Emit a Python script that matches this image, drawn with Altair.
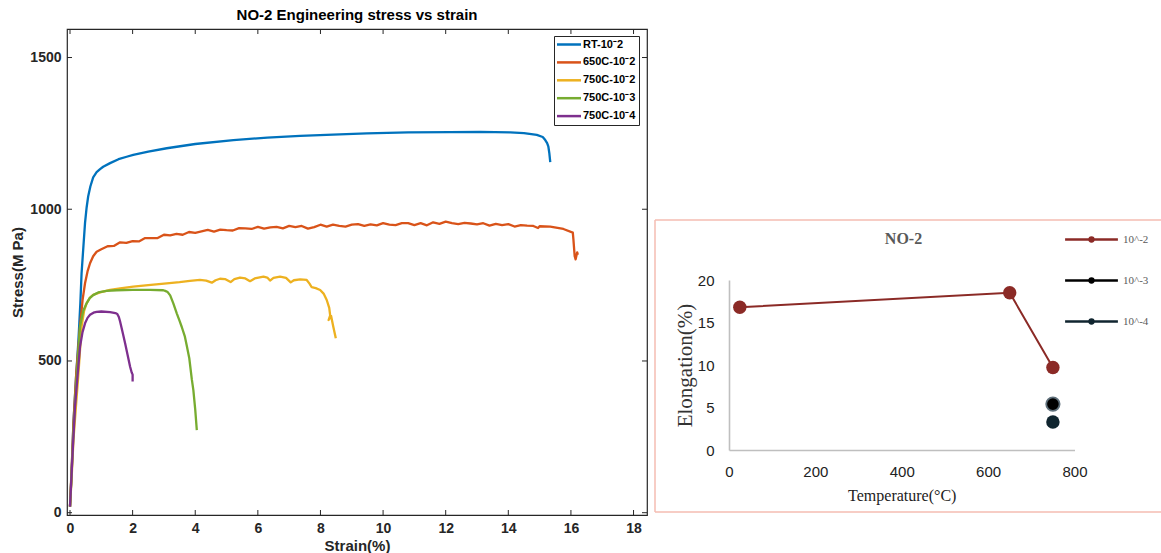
import altair as alt
import pandas as pd

# ---------------- left panel: engineering stress vs strain ----------------
series_names = ["RT-10⁻2", "650C-10⁻2", "750C-10⁻2", "750C-10⁻3", "750C-10⁻4"]
series_colors = ["#0072BD", "#D95319", "#EDB120", "#77AC30", "#7E2F8E"]

rt_strain = [0.0, 0.05, 0.11, 0.19, 0.27, 0.33, 0.37, 0.43, 0.48, 0.53, 0.58, 0.65, 0.74, 0.85, 0.96,
             1.06, 1.28, 1.55, 1.81, 2.02, 2.5, 3.09, 4.0, 5.22, 6.3, 7.35, 8.4, 9.48, 10.8, 12.14,
             13.1, 14.06, 14.5, 14.91, 15.1, 15.18, 15.24, 15.28, 15.31, 15.34]
rt_stress = [20, 130, 296, 440, 569, 690, 790, 880, 955, 1005, 1042, 1075, 1105, 1122, 1132,
             1140, 1152, 1165, 1173, 1179, 1190, 1201, 1215, 1228, 1236, 1242, 1246, 1250, 1253, 1254,
             1255, 1253, 1251, 1245, 1238, 1228, 1218, 1206, 1185, 1155]

c650_strain = [0.0, 0.05, 0.11, 0.2, 0.32, 0.4, 0.48, 0.56, 0.64, 0.74, 0.85, 1.0,
               1.2, 1.4, 1.6, 1.8, 2.0, 2.2, 2.4, 2.6, 2.8, 3.0,
               3.2, 3.4, 3.6, 3.8, 4.0, 4.2, 4.4, 4.6, 4.8, 5.0,
               5.2, 5.4, 5.6, 5.8, 6.0, 6.2, 6.4, 6.6, 6.8, 7.0,
               7.2, 7.4, 7.6, 7.8, 8.0, 8.2, 8.4, 8.6, 8.8, 9.0,
               9.2, 9.4, 9.6, 9.8, 10.0, 10.2, 10.4, 10.6, 10.8, 11.0,
               11.2, 11.4, 11.6, 11.8, 12.0, 12.2, 12.4, 12.6, 12.8, 13.0,
               13.2, 13.4, 13.6, 13.8, 14.0, 14.2, 14.4, 14.6, 14.8, 14.95, 15.0,
               15.34, 15.76, 16.06, 16.08, 16.12, 16.15, 16.2, 16.22]
c650_stress = [20, 140, 295, 460, 613, 700, 756, 795, 822, 845, 860, 868,
               878, 879, 891, 889, 895, 894, 905, 905, 905, 916,
               914, 919, 916, 925, 922, 927, 932, 926, 933, 931,
               930, 938, 937, 935, 942, 936, 940, 942, 937, 945,
               941, 945, 936, 941, 949, 943, 949, 945, 943, 949,
               951, 945, 950, 947, 954, 949, 948, 954, 954, 948,
               954, 947, 957, 952, 959, 954, 951, 955, 953, 950,
               954, 946, 952, 948, 951, 943, 948, 946, 945, 938, 944,
               943, 935, 923, 900, 845, 835, 858, 850]

c750a_strain = [0.0, 0.05, 0.11, 0.19, 0.27, 0.37, 0.45, 0.53, 0.63, 0.74, 0.96, 1.28, 1.6, 2.02, 2.5,
                3.09, 3.5, 3.83, 4.15, 4.35, 4.53, 4.65, 4.79, 4.95, 5.13, 5.25, 5.43, 5.6, 5.75, 5.9,
                6.18, 6.3, 6.39, 6.5, 6.71, 6.9, 7.05, 7.15, 7.35, 7.56, 7.65, 7.72, 7.85, 7.99, 8.1,
                8.2, 8.28, 8.31, 8.26, 8.34, 8.41, 8.49]
c750a_stress = [20, 110, 240, 350, 459, 613, 665, 690, 708, 718, 726, 734, 739, 745, 750,
                756, 760, 764, 767, 765, 758, 766, 771, 770, 760, 770, 775, 772, 763, 772,
                778, 775, 765, 774, 778, 774, 759, 766, 769, 767, 755, 743, 740, 734, 722,
                701, 675, 650, 635, 648, 613, 575]

c750b_strain = [0.0, 0.06, 0.12, 0.2, 0.32, 0.42, 0.53, 0.63, 0.74, 0.9, 1.17, 1.49, 2.0, 2.56, 2.98,
                3.04, 3.12, 3.2, 3.3, 3.41, 3.5, 3.57, 3.67, 3.73, 3.81, 3.89, 3.94, 4.0, 4.05]
c750b_stress = [20, 150, 290, 430, 613, 665, 690, 707, 717, 726, 731, 733, 734, 734, 733,
                731, 727, 716, 690, 657, 632, 612, 580, 550, 509, 440, 404, 340, 272]

c750c_strain = [0.0, 0.08, 0.16, 0.24, 0.32, 0.4, 0.48, 0.56, 0.64, 0.75, 0.85, 1.0,
                1.28, 1.45, 1.51, 1.56, 1.6, 1.68, 1.76, 1.84, 1.92, 1.97, 2.0, 2.0]
c750c_stress = [20, 190, 349, 450, 547, 595, 624, 642, 652, 659, 662, 663,
                661, 658, 655, 645, 630, 595, 558, 520, 481, 462, 455, 432]

strain_ticks = [0, 2, 4, 6, 8, 10, 12, 14, 16, 18]
stress_ticks = [0, 500, 1000, 1500]

# ---------------- right panel: elongation vs temperature ----------------
rate_names = ["10^-2", "10^-3", "10^-4"]
rate_colors = ["#8B2A26", "#000000", "#10252F"]
temp_r2 = [25, 650, 750]
elong_r2 = [16.8, 18.5, 9.7]
temp_r3 = [750]
elong_r3 = [5.4]
temp_r4 = [750]
elong_r4 = [3.3]
temp_ticks = [0, 200, 400, 600, 800]
elong_ticks = [0, 5, 10, 15, 20]

# ---------------- tables ----------------
rows = []
for name, xs, ys in zip(series_names,
                        [rt_strain, c650_strain, c750a_strain, c750b_strain, c750c_strain],
                        [rt_stress, c650_stress, c750a_stress, c750b_stress, c750c_stress]):
    for i, (a, b) in enumerate(zip(xs, ys)):
        rows.append({"series": name, "strain": a, "stress": b, "idx": i})
curves = pd.DataFrame(rows)

prow = []
for name, ts, es in zip(rate_names, [temp_r2, temp_r3, temp_r4], [elong_r2, elong_r3, elong_r4]):
    for t, e in zip(ts, es):
        prow.append({"rate": name, "rate_p": name, "temp": t, "elong": e})
pts = pd.DataFrame(prow)

xt_df = pd.DataFrame({"t": strain_ticks})
yt_df = pd.DataFrame({"t": stress_ticks})
one = pd.DataFrame({"a": [0]})

# ---------------- geometry ----------------
W, H = 580, 486
FRAME = "#262626"
SANS = "Liberation Sans"
SERIF = "Liberation Serif"

xs_left = alt.Scale(domain=[-0.096, 18.43], nice=False, zero=False)
ys_left = alt.Scale(domain=[-7.6, 1594], nice=False, zero=False)

left_x_axis = alt.Axis(orient="bottom", values=strain_ticks, format="d", title="Strain(%)",
                       grid=False, ticks=False, domain=False, labelFlush=False,
                       labelFont=SANS, labelFontSize=14, labelFontWeight="bold",
                       labelColor=FRAME, labelPadding=6,
                       titleFont=SANS, titleFontSize=15, titleFontWeight="bold",
                       titleColor=FRAME, titlePadding=3)
left_y_axis = alt.Axis(orient="left", values=stress_ticks, format="d", title="Stress(M Pa)",
                       grid=False, ticks=False, domain=False, labelFlush=False,
                       labelFont=SANS, labelFontSize=14, labelFontWeight="bold",
                       labelColor=FRAME, labelPadding=6,
                       titleFont=SANS, titleFontSize=15, titleFontWeight="bold",
                       titleColor=FRAME, titlePadding=4)

lines = alt.Chart(curves).mark_line(strokeWidth=2.3, strokeJoin="round").encode(
    x=alt.X("strain:Q", scale=xs_left, axis=left_x_axis),
    y=alt.Y("stress:Q", scale=ys_left, axis=left_y_axis),
    color=alt.Color("series:N",
                    scale=alt.Scale(domain=series_names, range=series_colors),
                    legend=alt.Legend(title=None, orient="none", legendX=487, legendY=7,
                                      symbolType="M-3,0L3,0", symbolSize=64,
                                      symbolStrokeWidth=2.5, symbolOffset=6.5,
                                      labelOffset=8.5, labelFont=SANS, labelFontSize=11,
                                      labelFontWeight="bold", labelColor="#000000",
                                      strokeColor=FRAME, fillColor="white",
                                      padding=3, rowPadding=5.9)),
    order=alt.Order("idx:Q"),
)

tick_style = dict(color=FRAME, strokeWidth=1)
t_bottom = alt.Chart(xt_df).mark_rule(**tick_style).encode(
    x=alt.X("t:Q", scale=xs_left, axis=None), y=alt.value(H), y2=alt.value(H - 5))
t_top = alt.Chart(xt_df).mark_rule(**tick_style).encode(
    x=alt.X("t:Q", scale=xs_left, axis=None), y=alt.value(0), y2=alt.value(5))
t_left = alt.Chart(yt_df).mark_rule(**tick_style).encode(
    y=alt.Y("t:Q", scale=ys_left, axis=None), x=alt.value(0), x2=alt.value(5))
t_right = alt.Chart(yt_df).mark_rule(**tick_style).encode(
    y=alt.Y("t:Q", scale=ys_left, axis=None), x=alt.value(W), x2=alt.value(W - 5))

# right panel scales placed with explicit pixel ranges
xs_right = alt.Scale(domain=[0, 800], range=[662, 1007.5], nice=False, zero=False)
ys_right = alt.Scale(domain=[0, 20], range=[421, 251], nice=False, zero=False)

AX_GRAY = "#bfbfbf"
right_x_axis = alt.Axis(orient="bottom", offset=-65, values=temp_ticks, grid=False, ticks=False,
                        domainColor=AX_GRAY, domainWidth=1.6, labelFlush=False,
                        labelFont=SANS, labelFontSize=15, labelColor="#222222", labelPadding=14,
                        title="Temperature(°C)", titleFont=SERIF, titleFontSize=16,
                        titleFontWeight="normal", titleColor="#222222", titlePadding=8)
right_y_axis = alt.Axis(orient="left", offset=-662, values=elong_ticks, grid=False, ticks=False,
                        domainColor=AX_GRAY, domainWidth=1.6, labelFlush=False,
                        labelFont=SANS, labelFontSize=15, labelColor="#222222", labelPadding=15,
                        title="Elongation(%)", titleFont=SERIF, titleFontSize=21,
                        titleFontWeight="normal", titleColor="#333333", titlePadding=2)

r_line = alt.Chart(pts).mark_line(strokeWidth=2).encode(
    x=alt.X("temp:Q", scale=xs_right, axis=right_x_axis),
    y=alt.Y("elong:Q", scale=ys_right, axis=right_y_axis),
    stroke=alt.Stroke("rate:N", scale=alt.Scale(domain=rate_names, range=rate_colors),
                      legend=alt.Legend(title=None, orient="none", legendX=998, legendY=205,
                                        symbolType="M-6.6,0L6.6,0", symbolSize=64,
                                        symbolStrokeWidth=2.5, symbolOffset=21,
                                        labelOffset=26, labelFont=SERIF, labelFontSize=11,
                                        labelColor="#595959", rowPadding=29, padding=0,
                                        zindex=1)),
)
r_pts = alt.Chart(pts).mark_circle(size=180, opacity=1).encode(
    x=alt.X("temp:Q", scale=xs_right, axis=None),
    y=alt.Y("elong:Q", scale=ys_right, axis=None),
    fill=alt.Fill("rate_p:N", scale=alt.Scale(range=rate_colors),
                  legend=alt.Legend(title=None, orient="none", legendX=998, legendY=205,
                                    symbolType="circle", symbolSize=40,
                                    symbolStrokeWidth=0, symbolOffset=21,
                                    labelOffset=26, labelFont=SERIF, labelFontSize=11,
                                    labelColor="#595959", labelOpacity=0,
                                    rowPadding=29, padding=0, zindex=2)),
)
r_ring = alt.Chart(pts).transform_filter(alt.datum.rate == "10^-3").mark_point(
    size=180, filled=False, stroke="#5f707b", strokeWidth=1.8, opacity=1).encode(
    x=alt.X("temp:Q", scale=xs_right, axis=None),
    y=alt.Y("elong:Q", scale=ys_right, axis=None),
)

BORDER = "#F5BDB2"
b_top = alt.Chart(one).mark_rule(color=BORDER, strokeWidth=1.5).encode(
    x=alt.value(588), x2=alt.value(1094), y=alt.value(191))
b_bot = alt.Chart(one).mark_rule(color=BORDER, strokeWidth=1.5).encode(
    x=alt.value(588), x2=alt.value(1094), y=alt.value(483))
b_left = alt.Chart(one).mark_rule(color=BORDER, strokeWidth=1.5).encode(
    x=alt.value(588), y=alt.value(191), y2=alt.value(483))
r_title = alt.Chart(one).mark_text(font=SERIF, fontSize=16, fontWeight="bold",
                                   color="#595959", align="center", baseline="middle").encode(
    x=alt.value(836.5), y=alt.value(210), text=alt.value("NO-2"))

chart = alt.layer(
    lines, t_bottom, t_top, t_left, t_right,
    b_top, b_bot, b_left, r_title, r_line, r_pts, r_ring,
).resolve_scale(
    x="independent", y="independent"
).properties(
    width=W, height=H,
    title=alt.Title("NO-2 Engineering stress vs strain", font=SANS, fontSize=15,
                    fontWeight="bold", color="#000000", anchor="middle", offset=6),
    autosize=alt.AutoSizeParams(type="none"),
    padding={"left": 67, "top": 29, "right": 514, "bottom": 38},
).configure_view(
    stroke=FRAME, strokeWidth=1.2
).configure_axis(grid=False)

chart.save("out.html", embed_options={"renderer": "svg", "actions": False})
